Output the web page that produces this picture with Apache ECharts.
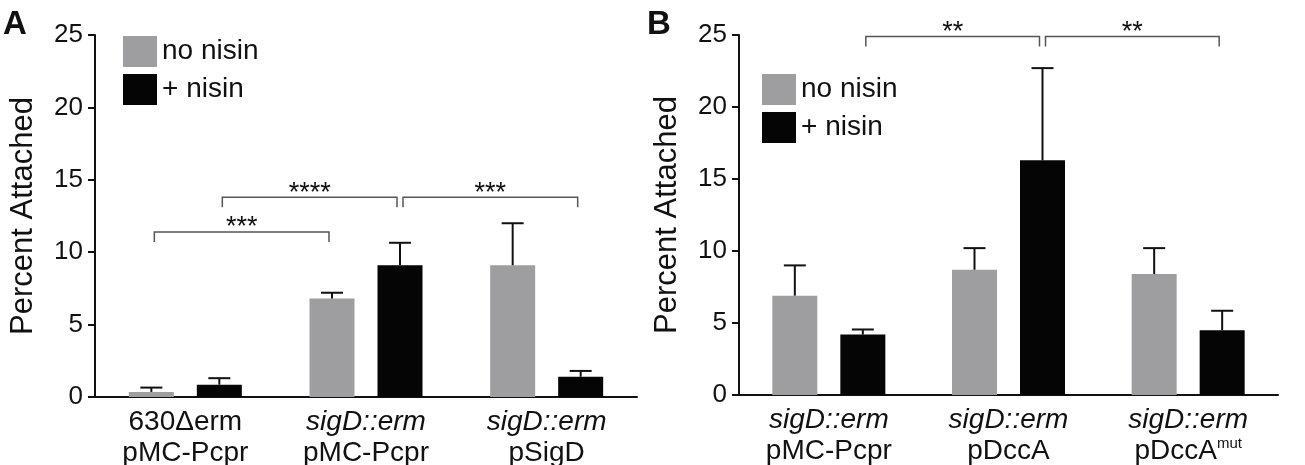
<!DOCTYPE html>
<html>
<head>
<meta charset="utf-8">
<script src="https://cdn.jsdelivr.net/npm/echarts@6/dist/echarts.min.js"></script>
<style>
  html, body { margin: 0; padding: 0; background: #fff; }
  #chart { width: 1305px; height: 465px; }
</style>
</head>
<body>
<div id="chart"></div>
<script>
// panel A
var catsA = ['630Δerm\npMC-Pcpr', 'sigD::erm\npMC-Pcpr', 'sigD::erm\npSigD']
var noNisinA = [0.35, 6.8, 9.1]
var noNisinErrA = [0.3, 0.4, 2.9]
var nisinA = [0.85, 9.1, 1.4]
var nisinErrA = [0.45, 1.55, 0.4]

// panel B
var catsB = ['sigD::erm\npMC-Pcpr', 'sigD::erm\npDccA', 'sigD::erm\npDccA^mut']
var noNisinB = [6.9, 8.7, 8.4]
var noNisinErrB = [2.1, 1.5, 1.8]
var nisinB = [4.2, 16.3, 4.5]
var nisinErrB = [0.35, 6.4, 1.35]

// significance brackets: [from category, level, from side, to category, to side]
// side -1 = no nisin bar, 1 = + nisin bar
var sigA = [[0, 11.4, -1, 1, -1], [0, 13.8, 1, 1, 1], [1, 13.8, 1, 2, 1]]
var sigTextA = ['***', '****', '***']
var sigB = [[0, 24.9, 1, 1, 1], [1, 24.9, 1, 2, 1]]
var sigTextB = ['**', '**']

var yMin = 0
var yMax = 25
var yStep = 5

var GRAY = '#9e9ea0'
var BLACK = '#050505'
var FONT = 'Liberation Sans'
var barW = 45
var barGapPx = 23
var slot = (barW + barGapPx) / 2   // distance of a bar centre from the category centre

function zip(means, errs) {
  return means.map(function (m, i) { return [i, m, errs[i]] })
}

// upward error bar with a cap
function errBar(side) {
  return function (params, api) {
    var base = api.coord([api.value(0), api.value(1)])
    var top = api.coord([api.value(0), api.value(1) + api.value(2)])
    var x = base[0] + side * slot
    var st = { stroke: '#111', lineWidth: 2 }
    return {
      type: 'group',
      children: [
        { type: 'line', shape: { x1: x, y1: base[1], x2: x, y2: top[1] }, style: st },
        { type: 'line', shape: { x1: x - 11, y1: top[1], x2: x + 11, y2: top[1] }, style: st }
      ]
    }
  }
}

// significance bracket with stars
function bracket(texts) {
  return function (params, api) {
    var p1 = api.coord([api.value(0), api.value(1)])
    var p2 = api.coord([api.value(3), api.value(1)])
    var x1 = p1[0] + api.value(2) * slot + 3
    var x2 = p2[0] + api.value(4) * slot - 3
    var y = p1[1]
    return {
      type: 'group',
      children: [
        {
          type: 'polyline',
          shape: { points: [[x1, y + 10], [x1, y], [x2, y], [x2, y + 10]] },
          style: { stroke: '#555', lineWidth: 1.5, fill: null }
        },
        {
          type: 'text',
          x: (x1 + x2) / 2,
          y: y - 4,
          style: {
            text: texts[params.dataIndex], fontSize: 27, fontFamily: FONT,
            fill: '#111', align: 'center', verticalAlign: 'middle'
          }
        }
      ]
    }
  }
}

function xLabel(v) {
  return v.split('\n').map(function (s) {
    if (s.indexOf('sigD') === 0) return '{it|' + s + '}'
    var parts = s.split('^')
    return '{n|' + parts[0] + '}' + (parts[1] ? '{sup|' + parts[1] + '}' : '')
  }).join('\n')
}

function xAxis(cats, idx) {
  return {
    type: 'category',
    gridIndex: idx,
    data: cats,
    axisLine: { lineStyle: { color: '#111', width: 2 } },
    axisTick: { alignWithLabel: true, length: 7, lineStyle: { color: '#111', width: 2 } },
    axisLabel: {
      interval: 0,
      margin: 10,
      color: '#111',
      formatter: xLabel,
      rich: {
        n: { fontSize: 28, lineHeight: 31, fontFamily: FONT, color: '#111' },
        it: { fontSize: 28, lineHeight: 31, fontFamily: FONT, fontStyle: 'italic', color: '#111' },
        sup: { fontSize: 15, lineHeight: 15, fontFamily: FONT, color: '#111', verticalAlign: 'top' }
      }
    }
  }
}

function yAxis(idx) {
  return {
    type: 'value',
    gridIndex: idx,
    min: yMin,
    max: yMax,
    interval: yStep,
    name: 'Percent Attached',
    nameLocation: 'middle',
    nameGap: 56,
    nameTextStyle: { fontSize: 31, fontFamily: FONT, color: '#111' },
    splitLine: { show: false },
    axisLine: { show: true, lineStyle: { color: '#111', width: 2 } },
    axisTick: { show: true, length: 7, lineStyle: { color: '#111', width: 2 } },
    axisLabel: { fontSize: 26, fontFamily: FONT, color: '#111', margin: 12 }
  }
}

function legend(left, top) {
  return {
    left: left,
    top: top,
    orient: 'vertical',
    padding: 0,
    itemWidth: 34,
    itemHeight: 31,
    itemGap: 7,
    icon: 'rect',
    selectedMode: false,
    data: ['no nisin', '+ nisin'],
    textStyle: { fontSize: 28, fontFamily: FONT, color: '#111', lineHeight: 31 }
  }
}

function bar(name, data, color, idx) {
  return {
    name: name, type: 'bar', xAxisIndex: idx, yAxisIndex: idx,
    data: data, barWidth: barW, barGap: (barGapPx / barW * 100) + '%',
    itemStyle: { color: color }
  }
}

function custom(render, data, idx) {
  return {
    type: 'custom', xAxisIndex: idx, yAxisIndex: idx,
    renderItem: render, data: data, clip: false, z: 5, silent: true
  }
}

var chart = echarts.init(document.getElementById('chart'))
chart.setOption({
  animation: false,
  backgroundColor: '#fff',
  textStyle: { fontFamily: FONT },
  grid: [
    { left: 95, right: 668, top: 35, bottom: 68, outerBoundsMode: 'none' },
    { left: 739, right: 27, top: 35, bottom: 70, outerBoundsMode: 'none' }
  ],
  legend: [legend(123, 36), legend(762, 74)],
  xAxis: [xAxis(catsA, 0), xAxis(catsB, 1)],
  yAxis: [yAxis(0), yAxis(1)],
  graphic: [
    { type: 'text', left: 3, top: 8, style: { text: 'A', fontSize: 33, fontWeight: 'bold', fontFamily: FONT, fill: '#111' } },
    { type: 'text', left: 647, top: 8, style: { text: 'B', fontSize: 33, fontWeight: 'bold', fontFamily: FONT, fill: '#111' } }
  ],
  series: [
    bar('no nisin', noNisinA, GRAY, 0),
    bar('+ nisin', nisinA, BLACK, 0),
    bar('no nisin', noNisinB, GRAY, 1),
    bar('+ nisin', nisinB, BLACK, 1),
    custom(errBar(-1), zip(noNisinA, noNisinErrA), 0),
    custom(errBar(1), zip(nisinA, nisinErrA), 0),
    custom(errBar(-1), zip(noNisinB, noNisinErrB), 1),
    custom(errBar(1), zip(nisinB, nisinErrB), 1),
    custom(bracket(sigTextA), sigA, 0),
    custom(bracket(sigTextB), sigB, 1)
  ]
})
</script>
</body>
</html>
